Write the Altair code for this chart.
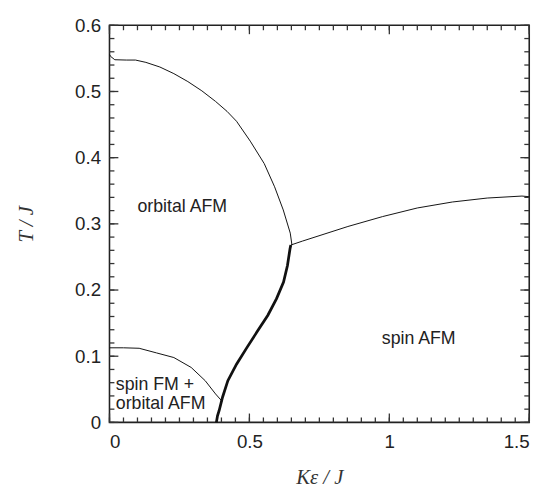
import altair as alt
import pandas as pd

# ---- data ----
upper_x = [0.0, 0.004, 0.019, 0.06, 0.093, 0.13, 0.18, 0.23, 0.28, 0.33, 0.379, 0.42, 0.454, 0.503, 0.553, 0.59, 0.621, 0.646, 0.652]
upper_y = [0.556, 0.553, 0.548, 0.5475, 0.5475, 0.544, 0.537, 0.527, 0.515, 0.501, 0.485, 0.470, 0.455, 0.425, 0.391, 0.356, 0.321, 0.286, 0.268]

right_x = [0.648, 0.69, 0.852, 0.976, 1.1, 1.225, 1.35, 1.474, 1.5]
right_y = [0.268, 0.274, 0.296, 0.311, 0.324, 0.333, 0.339, 0.342, 0.341]

thick_x = [0.382, 0.386, 0.392, 0.404, 0.423, 0.454, 0.491, 0.529, 0.566, 0.597, 0.622, 0.636, 0.645, 0.648]
thick_y = [0.0, 0.01, 0.018, 0.038, 0.063, 0.088, 0.113, 0.138, 0.162, 0.187, 0.212, 0.237, 0.262, 0.268]

lower_x = [0.0, 0.05, 0.106, 0.168, 0.23, 0.292, 0.342, 0.379, 0.402]
lower_y = [0.1127, 0.1127, 0.112, 0.105, 0.098, 0.083, 0.063, 0.043, 0.032]

label_center_text = ["orbital AFM", "spin AFM"]
label_center_x = [0.26, 1.105]
label_center_y = [0.326, 0.126]

label_left_text = ["spin FM +", "orbital AFM"]
label_left_x = [0.0225, 0.0225]
label_left_y = [0.056, 0.028]

x_major = [0, 0.5, 1, 1.5]
y_major = [0, 0.1, 0.2, 0.3, 0.4, 0.5, 0.6]
x_minor = [round(i * 0.05, 2) for i in range(31)]
y_minor = [round(i * 0.02, 2) for i in range(31)]

# ---- tables ----
rows = []
for name, xs_, ys_ in [("upper", upper_x, upper_y), ("right", right_x, right_y),
                       ("lower", lower_x, lower_y)]:
    for i, (a, b) in enumerate(zip(xs_, ys_)):
        rows.append({"series": name, "x": a, "y": b, "i": i})
thin_df = pd.DataFrame(rows)
thick_df = pd.DataFrame({"x": thick_x, "y": thick_y, "i": list(range(len(thick_x)))})
center_df = pd.DataFrame({"x": label_center_x, "y": label_center_y, "t": label_center_text})
left_df = pd.DataFrame({"x": label_left_x, "y": label_left_y, "t": label_left_text})

xs = alt.Scale(domain=[0, 1.5], nice=False, zero=False)
ys = alt.Scale(domain=[0, 0.6], nice=False, zero=False)

W, H = 426, 403

x_axis = alt.Axis(
    orient="bottom", values=x_major,
    labelExpr="datum.value == 0 ? '0' : datum.value == 1 ? '1' : format(datum.value, '.1f')",
    ticks=False, tickSize=0, domain=False, grid=False, labelPadding=10,
    title="Kε / J", titleX=W / 2, titleY=56, titleAlign="center", titleBaseline="middle")
y_axis = alt.Axis(
    orient="left", values=y_major,
    labelExpr="datum.value == 0 ? '0' : format(datum.value, '.1f')",
    ticks=False, tickSize=0, domain=False, grid=False, labelPadding=9,
    title="T / J", titleX=-84, titleY=H / 2, titleAlign="center", titleBaseline="middle", titleAngle=-90)


def X(field):
    return alt.X(field, type="quantitative", scale=xs, axis=x_axis)


def Y(field):
    return alt.Y(field, type="quantitative", scale=ys, axis=y_axis)


thin = alt.Chart(thin_df).mark_line(color="#111", strokeWidth=1).encode(
    x=X("x"), y=Y("y"), detail="series:N", order="i:Q")

thick = alt.Chart(thick_df).mark_line(color="#111", strokeWidth=2.8).encode(
    x=X("x"), y=Y("y"), order="i:Q")

txt_c = alt.Chart(center_df).mark_text(font="Liberation Sans", fontSize=18, color="#222",
                                       align="center", baseline="middle").encode(
    x=X("x"), y=Y("y"), text="t:N")
txt_l = alt.Chart(left_df).mark_text(font="Liberation Sans", fontSize=18, color="#222",
                                     align="left", baseline="middle").encode(
    x=X("x"), y=Y("y"), text="t:N")


def x_ticks(vals, size, at, sign):
    df = pd.DataFrame({"x": vals, "y": [at] * len(vals)})
    return alt.Chart(df).mark_tick(orient="vertical", size=size, thickness=1.3, color="#333",
                                   opacity=1, yOffset=sign * size / 2).encode(x=X("x"), y=Y("y"))


def y_ticks(vals, size, at, sign):
    df = pd.DataFrame({"y": vals, "x": [at] * len(vals)})
    return alt.Chart(df).mark_tick(orient="horizontal", size=size, thickness=1.3, color="#333",
                                   opacity=1, xOffset=sign * size / 2).encode(x=X("x"), y=Y("y"))


layers = [thin, thick, txt_c, txt_l,
          x_ticks(x_minor, 5, 0, -1), x_ticks(x_major, 9, 0, -1),
          x_ticks(x_minor, 5, 0.6, 1), x_ticks(x_major, 9, 0.6, 1),
          y_ticks(y_minor, 5, 0, 1), y_ticks(y_major, 9, 0, 1),
          y_ticks(y_minor, 5, 1.5, -1), y_ticks(y_major, 9, 1.5, -1)]

chart = alt.layer(*layers).properties(
    width=W, height=H,
    autosize=alt.AutoSizeParams(type="none"),
    padding={"left": 103, "top": 14, "right": 16, "bottom": 62},
).configure_view(stroke="#222", strokeWidth=1.6).configure_axis(
    labelFont="Liberation Sans", labelFontSize=19, labelColor="#222",
    titleFont="Liberation Serif", titleFontStyle="italic", titleFontWeight="normal",
    titleFontSize=21, titleColor="#333")

chart.save("out.html", embed_options={"renderer": "svg", "actions": False})
